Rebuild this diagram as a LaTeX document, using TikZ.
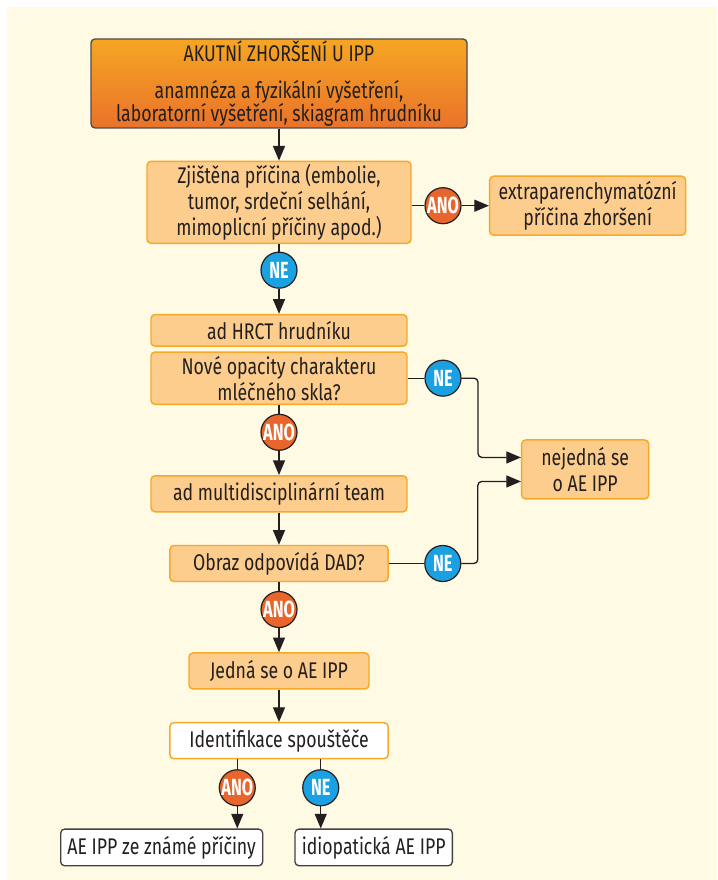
\documentclass[tikz,border=0pt]{standalone}
\usepackage{fontspec}
\setmainfont{Fira Sans}[FakeStretch=0.78]
\newfontfamily\circfont{Fira Sans}[FakeStretch=0.7]
\usepackage{xcolor}
\usetikzlibrary{positioning, arrows.meta}

\definecolor{bgcream}{HTML}{FFFAE4}
\definecolor{boxfill}{HTML}{FCCD8C}
\definecolor{boxline}{HTML}{F6A929}
\definecolor{toptop}{HTML}{F5A623}
\definecolor{topbottom}{HTML}{EA722A}
\definecolor{txt}{HTML}{231F20}
\definecolor{anofill}{HTML}{E8662B}
\definecolor{nefill}{HTML}{1BA1E2}

\begin{document}
\begin{tikzpicture}[
        node distance=24pt,
        box/.style={draw=boxline, fill=boxfill, line width=1.1pt, rounded corners=3pt, align=center, inner sep=0pt, text=txt, font=\fontsize{17}{19.5}\selectfont},
        topbox/.style={box, draw=txt!80, line width=1pt, top color=toptop, bottom color=topbottom, font=\fontsize{17}{17.5}\selectfont},
        whitebox/.style={box, fill=white},
        endbox/.style={box, fill=white, draw=txt!85, line width=1pt},
        ano/.style={circle, draw=txt, line width=0.9pt, fill=anofill, minimum size=27pt, inner sep=0pt, text=white, font=\circfont\bfseries\fontsize{17.5}{17.5}\selectfont},
        ne/.style={ano, fill=nefill},
        line/.style={draw=txt, line width=1pt},
        arrow/.style={line, -{Triangle[length=11pt, width=9pt]}}
    ]
        \useasboundingbox (0,0) rectangle (537.75pt,-660pt);
        \fill[bgcream] (5.25pt,-5.25pt) rectangle (537.75pt,-660pt);

        % Nodes
        \node[topbox, minimum width=282pt, minimum height=66.75pt] (top) at (209.25pt,-62.6pt)
            {AKUTNÍ ZHORŠENÍ U IPP\\[10pt] anamnéza a fyzikální vyšetření,\\ laboratorní vyšetření, skiagram hrudníku};

        \node[box, below=24pt of top, minimum width=198pt, minimum height=61.5pt] (zjist)
            {Zjištěna příčina (embolie,\\ tumor, srdeční selhání,\\ mimoplicní příčiny apod.)};
        \node[ano, right=9.5pt of zjist, yshift=-2.5pt] (ano1) {ANO};
        \node[box, right=20.5pt of ano1, minimum width=147pt, minimum height=44.25pt] (extra)
            {extraparenchymatózní\\ příčina zhoršení};
        \node[ne, below=5.6pt of zjist] (ne1) {NE};

        \node[box, below=52.3pt of zjist, minimum width=192pt, minimum height=23.7pt] (hrct) {ad HRCT hrudníku};
        \node[box, below=3.3pt of hrct, minimum width=192pt, minimum height=39.2pt] (nove)
            {Nové opacity charakteru\\ mléčného skla?};
        \node[ne, right=12.5pt of nove] (ne2) {NE};
        \node[ano, below=6.5pt of nove] (ano2) {ANO};

        \node[box, below=52.5pt of nove, minimum width=192pt, minimum height=27pt] (multi) {ad multidisciplinární team};
        \node[box, minimum width=95.25pt, minimum height=44.25pt] (nejedna) at (438.9pt,-352.1pt)
            {nejedná se\\ o AE IPP};

        \node[box, below=24.2pt of multi, minimum width=163.7pt, minimum height=27pt] (obraz) {Obraz odpovídá DAD?};
        \node[ne, right=26.5pt of obraz] (ne3) {NE};
        \node[ano, below=6.5pt of obraz] (ano3) {ANO};

        \node[box, below=52.5pt of obraz, minimum width=135pt, minimum height=27pt] (jedna) {Jedná se o AE IPP};
        \node[whitebox, below=24.2pt of jedna, minimum width=163.7pt, minimum height=27pt] (ident) {Identifikace spouštěče};
        \node[ano, below=7.3pt of ident, xshift=-31.3pt] (ano4) {ANO};
        \node[ne, below=7.3pt of ident, xshift=31.3pt] (ne4) {NE};

        \node[endbox, below=51.75pt of ident, xshift=-88pt, minimum width=151.5pt, minimum height=27.5pt] (aeipp) {AE IPP ze známé příčiny};
        \node[endbox, below=51.75pt of ident, xshift=71pt, minimum width=118pt, minimum height=27.5pt] (idio) {idiopatická AE IPP};

        % Paths
        \draw[arrow] (top) -- (zjist);
        \draw[line] (zjist.east |- ano1) -- (ano1);
        \draw[arrow] (ano1) -- (extra);
        \draw[line] (zjist) -- (ne1);
        \draw[arrow] (ne1) -- (hrct);

        \draw[line] (nove) -- (ne2);
        \draw[arrow, rounded corners=3pt] (ne2) -- ++(26.25pt,0) |- ([yshift=9pt]nejedna.west);
        \draw[line] (nove) -- (ano2);
        \draw[arrow] (ano2) -- (multi);

        \draw[arrow] (multi) -- (obraz);
        \draw[line] (obraz) -- (ne3);
        \draw[arrow, rounded corners=3pt] (ne3) -- ++(26.25pt,0) |- ([yshift=-9pt]nejedna.west);
        \draw[line] (obraz) -- (ano3);
        \draw[arrow] (ano3) -- (jedna);

        \draw[arrow] (jedna) -- (ident);
        \draw[line] (ident.south -| ano4) -- (ano4);
        \draw[arrow] (ano4) -- (aeipp.north -| ano4);
        \draw[line] (ident.south -| ne4) -- (ne4);
        \draw[arrow] (ne4) -- (idio.north -| ne4);

    \end{tikzpicture}
\end{document}
